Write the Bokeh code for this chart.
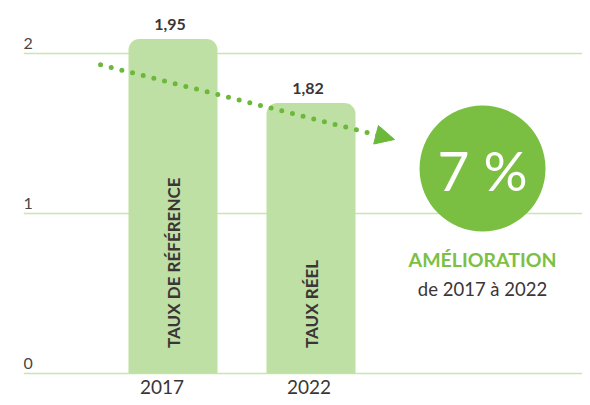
from bokeh.plotting import figure
from bokeh.models import Range1d, ColumnDataSource, Arrow, NormalHead
from bokeh.core.properties import value
from bokeh.embed import file_html
from bokeh.resources import INLINE
import math

# ---- data ----
years = ["2017", "2022"]
bar_labels = ["TAUX DE RÉFÉRENCE", "TAUX RÉEL"]
value_labels = ["1,95", "1,82"]
bar_heights = [2.09, 1.69]          # heights as drawn in the reference
y_ticks = [0, 1, 2]
y_tick_labels = ["0", "1", "2"]
improvement = "7 %"
improvement_title = "AMÉLIORATION"
improvement_sub = "de 2017 à 2022"

# ---- styles ----
DARK = "#3b3536"
BAR = "#bfe0a5"
GRID = "#c8e6b0"
DOT = "#6bb83a"
CIRCLE = "#7abf42"
FONT = value("Lato")

W, H = 582, 397
LEFT = 23
px_x = 138.0   # px per x unit
px_y = 160.0   # px per y unit
x0_px = 172.5 - LEFT  # frame px of x=0
y0_px = 373.0          # px from top of y=0

p = figure(width=W, height=H, output_backend="svg", toolbar_location=None,
           x_axis_type=None, y_axis_type=None,
           x_range=Range1d(-x0_px / px_x, (W - LEFT - x0_px) / px_x),
           y_range=Range1d(-(H - y0_px) / px_y, y0_px / px_y),
           min_border_left=LEFT, min_border_right=0, min_border_top=0, min_border_bottom=0)
p.outline_line_color = None
p.background_fill_color = "white"
p.border_fill_color = "white"

xs = list(range(len(years)))

# gridlines
p.hspan(y=y_ticks, line_color=GRID, line_width=1.5)

# y tick labels (above the gridlines, left aligned)
x_left = p.x_range.start
p.text(x=[x_left] * len(y_ticks), y=y_ticks, text=y_tick_labels,
       text_font=FONT, text_font_size="16px", text_color="#4a4545",
       text_align="left", text_baseline="bottom", y_offset=-5)

# bars
src = ColumnDataSource(dict(x=xs, top=bar_heights, lab=bar_labels, val=value_labels, yr=years,
                            xoff=[-11, -2]))
p.vbar(x="x", top="top", bottom=0, width=89 / px_x, source=src,
       fill_color=BAR, line_color=None, border_radius=(11, 11, 0, 0))

# value labels
p.text(x="x", y="top", text="val", source=src, text_font=FONT, text_font_style="bold",
       text_font_size="16px", text_color=DARK, text_align="center",
       text_baseline="bottom", y_offset=-9, x_offset=-3)

# rotated bar labels
p.text(x="x", y=0.16, text="lab", source=src, angle=math.pi / 2,
       text_font=FONT, text_font_style="bold", text_font_size="17px", text_color=DARK,
       text_align="left", text_baseline="middle")

# year labels
p.text(x="x", y=0, text="yr", source=src, text_font=FONT, text_font_size="19px",
       text_color=DARK, text_align="center", text_baseline="middle",
       y_offset=13, x_offset="xoff")

# dotted trend arrow
p.add_layout(Arrow(x_start=-0.525, y_start=1.93, x_end=1.605, y_end=1.4625,
                   line_color=DOT, line_width=5, line_dash="0 11", line_cap="round",
                   end=NormalHead(size=19, fill_color=DOT, line_color=DOT, line_width=1)))

# improvement circle
cx, cy = 2.243, 1.281
p.scatter(x=[cx], y=[cy], marker="circle", size=126, fill_color=CIRCLE, line_color=None)
p.text(x=[cx], y=[cy], text=[improvement], text_font=FONT, text_font_size="55px",
       text_color="white", text_align="center", text_baseline="middle", y_offset=1)
p.text(x=[cx], y=[cy], text=[improvement_title], text_font=FONT, text_font_style="bold",
       text_font_size="19.5px", text_color="#7dbf45", text_align="center",
       text_baseline="middle", y_offset=91)
p.text(x=[cx], y=[cy], text=[improvement_sub], text_font=FONT,
       text_font_size="18.5px", text_color=DARK, text_align="center",
       text_baseline="middle", y_offset=120)

open("out.html", "w").write(file_html(p, INLINE))
